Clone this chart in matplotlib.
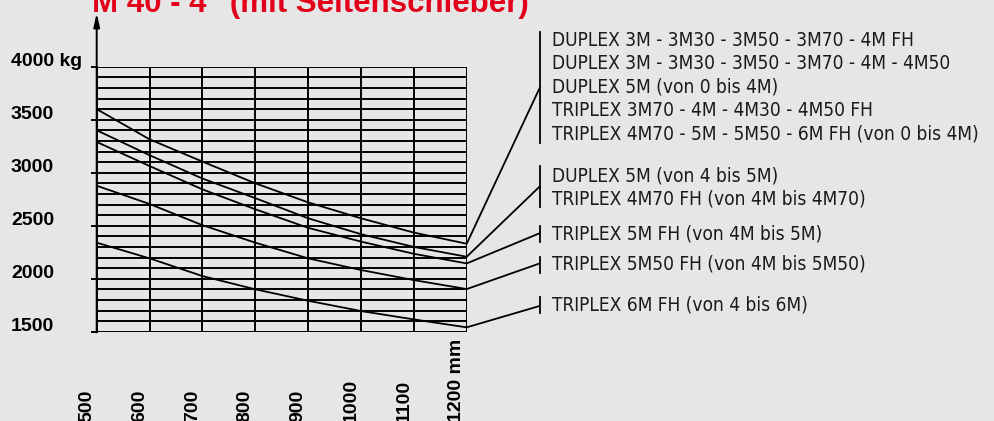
import matplotlib
matplotlib.use('Agg')
import matplotlib.pyplot as plt

# lift capacity (kg) against load centre (mm)
width_mm = [500, 600, 700, 800, 900, 1000, 1100, 1200]
curve_1 = [3600, 3315, 3105, 2900, 2720, 2570, 2435, 2330]
curve_2 = [3400, 3165, 2945, 2760, 2570, 2420, 2300, 2207]
curve_3 = [3290, 3063, 2843, 2655, 2480, 2350, 2235, 2144]
curve_4 = [2877, 2705, 2505, 2340, 2192, 2082, 1987, 1902]
curve_5 = [2340, 2192, 2025, 1900, 1792, 1695, 1616, 1541]
curves = [curve_1, curve_2, curve_3, curve_4, curve_5]

y_ticks = [4000, 3500, 3000, 2500, 2000, 1500]
y_tick_labels = ['4000 kg', '3500', '3000', '2500', '2000', '1500']
x_tick_labels = ['500', '600', '700', '800', '900', '1000', '1100', '1200 mm']

title = 'M 40 - 4" (mit Seitenschieber)'

legend_groups = [
    ['DUPLEX 3M - 3M30 - 3M50 - 3M70 - 4M FH',
     'DUPLEX 3M - 3M30 - 3M50 - 3M70 - 4M - 4M50',
     'DUPLEX 5M (von 0 bis 4M)',
     'TRIPLEX 3M70 - 4M - 4M30 - 4M50 FH',
     'TRIPLEX 4M70 - 5M - 5M50 - 6M FH (von 0 bis 4M)'],
    ['DUPLEX 5M (von 4 bis 5M)',
     'TRIPLEX 4M70 FH (von 4M bis 4M70)'],
    ['TRIPLEX 5M FH (von 4M bis 5M)'],
    ['TRIPLEX 5M50 FH (von 4M bis 5M50)'],
    ['TRIPLEX 6M FH (von 4 bis 6M)'],
]
# layout of the legend column (pixels from top)
group_text_y = [[40.0, 63.5, 87.0, 110.5, 134.0], [175.7, 199.0], [233.5], [264.5], [305.0]]
group_bracket = [(31.7, 143.3), (165.7, 207.3), (226, 241.7), (256.5, 272.5), (297, 313.3)]
group_anchor_y = [88.3, 186.7, 233.3, 263.5, 306.0]

W, H = 994, 421
bg = '#e6e6e6'
fig = plt.figure(figsize=(W / 100, H / 100), dpi=100, facecolor=bg)

left, right, top, bottom = 96.7, 466.7, 66.7, 331.7
ax = fig.add_axes([left / W, 1 - bottom / H, (right - left) / W, (bottom - top) / H])
ax.set_facecolor(bg)
ax.set_xlim(500, 1200)
ax.set_ylim(1500, 4000)
for s in ax.spines.values():
    s.set_visible(False)
ax.set_xticks([])
ax.set_yticks([])

grid_lw = 1.4
ax.hlines(range(1500, 4001, 100), 500, 1200, color='black', lw=grid_lw)
ax.vlines(width_mm, 1500, 4000, color='black', lw=grid_lw)
for c in curves:
    ax.plot(width_mm, c, color='black', lw=1.3, solid_capstyle='round')

# overlay in pixel coordinates for labels / leaders
ov = fig.add_axes([0, 0, 1, 1])
ov.set_xlim(0, W)
ov.set_ylim(H, 0)
ov.axis('off')


def to_px(x, y):
    return ov.transData.inverted().transform(ax.transData.transform((x, y)))


# y axis arrow and left ticks
ov.annotate('', xy=(left, 13), xytext=(left, bottom + 0.7),
            arrowprops=dict(arrowstyle='-|>,head_width=0.18,head_length=0.8',
                            lw=grid_lw, color='black', mutation_scale=10,
                            shrinkA=0, shrinkB=0))
for v, lab in zip(y_ticks, y_tick_labels):
    px, py = to_px(500, v)
    ov.plot([left - 5, left], [py, py], color='black', lw=grid_lw)
    ov.text(11, py - 5, lab, fontsize=14, fontweight='bold', family='Liberation Sans',
            ha='left', va='center')

for v, lab in zip(width_mm, x_tick_labels):
    px, py = to_px(v, 1500)
    ov.text(px - 10, H + 1, lab, fontsize=14, fontweight='bold', family='Liberation Sans',
            rotation=90, ha='center', va='bottom')

ov.text(92, 12, title, color='#e2001a', fontsize=22.5, fontweight='bold',
        family='Liberation Sans', va='baseline', ha='left')

bracket_x = 539.5
text_x = 551.5
for c, lines, ys, (b0, b1), ay in zip(curves, legend_groups, group_text_y,
                                      group_bracket, group_anchor_y):
    sx, sy = to_px(1200, c[-1])
    ov.plot([sx, bracket_x], [sy, ay], color='black', lw=1.3)
    ov.plot([bracket_x, bracket_x], [b0, b1], color='black', lw=1.3)
    for t, y in zip(lines, ys):
        ov.text(text_x, y, t, fontsize=13.7, family='DejaVu Sans', fontstretch='condensed',
                color='#1a1a1a', ha='left', va='center')

fig.savefig('out.png', dpi=100, facecolor=bg)
